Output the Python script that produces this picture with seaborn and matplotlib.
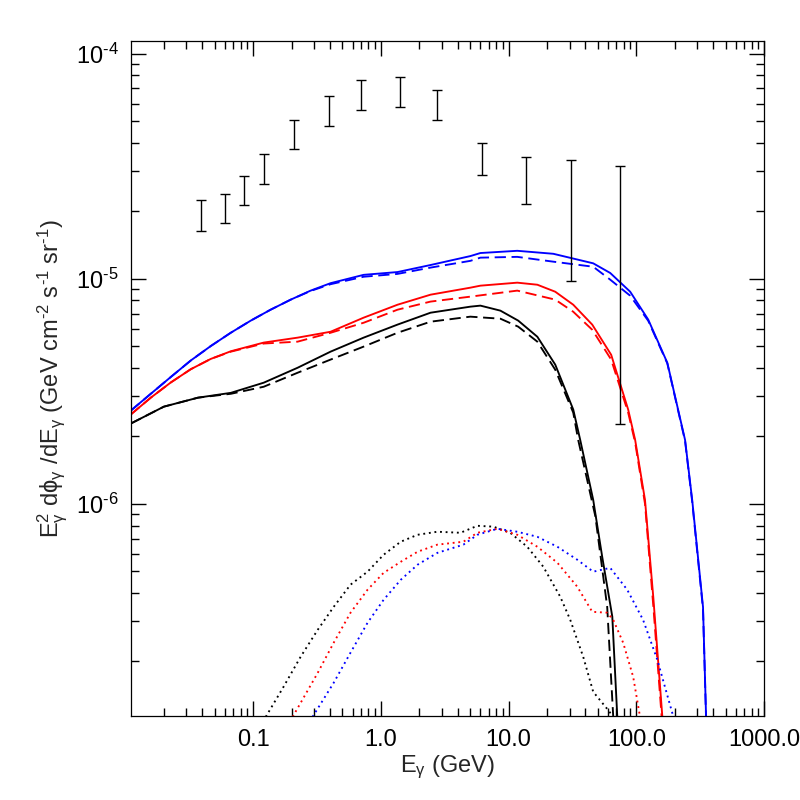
import numpy as np
import pandas as pd
import matplotlib
matplotlib.use("Agg")
import matplotlib.pyplot as plt
from matplotlib.ticker import FixedLocator, FixedFormatter, LogLocator, NullFormatter
import seaborn as sns

# ---- data (E in GeV, E^2 dphi/dE) ----
data_E = [0.0394, 0.060, 0.085, 0.1226, 0.21, 0.39, 0.70, 1.40, 2.77, 6.16, 13.8, 30.6, 74.4]
data_lo = [1.63e-5, 1.77e-5, 2.12e-5, 2.64e-5, 3.76e-5, 4.78e-5, 5.62e-5, 5.80e-5, 5.06e-5, 2.90e-5, 2.14e-5, 9.73e-6, 2.26e-6]
data_hi = [2.23e-5, 2.39e-5, 2.86e-5, 3.58e-5, 5.07e-5, 6.49e-5, 7.60e-5, 7.87e-5, 6.87e-5, 4.01e-5, 3.46e-5, 3.36e-5, 3.16e-5]

blue_solid_E = [0.011, 0.0158, 0.0227, 0.0325, 0.0466, 0.0668, 0.0958, 0.137, 0.197, 0.282, 0.404, 0.733,
                1.35, 2.45, 5.02, 6.02, 11.7, 22.4, 46.0, 62.5, 89.6, 124, 175, 241, 274, 333, 352]
blue_solid_F = [2.59e-6, 3.08e-6, 3.66e-6, 4.33e-6, 5.02e-6, 5.75e-6, 6.51e-6, 7.28e-6, 8.07e-6, 8.85e-6, 9.55e-6, 1.04e-5,
                1.07e-5, 1.15e-5, 1.26e-5, 1.30e-5, 1.33e-5, 1.29e-5, 1.17e-5, 1.06e-5, 8.75e-6, 6.58e-6, 4.23e-6,
                1.92e-6, 1.04e-6, 3.48e-7, 1.13e-7]
blue_dash_E = [0.011, 0.0158, 0.0227, 0.0325, 0.0466, 0.0668, 0.0958, 0.137, 0.197, 0.282, 0.404, 0.733,
               1.35, 2.45, 5.02, 6.02, 11.7, 22.4, 46.0, 62.5, 89.6, 124, 175, 241, 274, 333, 352]
blue_dash_F = [2.59e-6, 3.08e-6, 3.66e-6, 4.33e-6, 5.02e-6, 5.75e-6, 6.51e-6, 7.28e-6, 8.07e-6, 8.82e-6, 9.45e-6, 1.02e-5,
               1.05e-5, 1.12e-5, 1.20e-5, 1.24e-5, 1.25e-5, 1.19e-5, 1.13e-5, 9.9e-6, 8.4e-6, 6.5e-6, 4.2e-6,
               1.9e-6, 1.02e-6, 3.4e-7, 1.1e-7]

red_solid_E = [0.011, 0.0158, 0.0227, 0.0325, 0.0466, 0.067, 0.121, 0.223, 0.404, 0.733, 1.35, 2.45, 5.02, 6.02,
               11.7, 16.8, 23.2, 32.1, 45.2, 63.6, 86.4, 98, 117, 136, 160]
red_solid_F = [2.49e-6, 2.96e-6, 3.46e-6, 3.96e-6, 4.40e-6, 4.76e-6, 5.20e-6, 5.47e-6, 5.81e-6, 6.71e-6, 7.66e-6, 8.49e-6,
               9.12e-6, 9.31e-6, 9.60e-6, 9.40e-6, 8.75e-6, 7.66e-6, 6.25e-6, 4.59e-6, 2.62e-6, 1.92e-6, 1.04e-6,
               3.82e-7, 1.13e-7]
red_dash_E = [0.011, 0.0158, 0.0227, 0.0325, 0.0466, 0.067, 0.121, 0.223, 0.404, 0.733, 1.35, 2.45, 5.02,
              11.7, 23.2, 32.1, 45.2, 63.6, 86.4, 98, 117, 136, 158]
red_dash_F = [2.49e-6, 2.96e-6, 3.46e-6, 3.96e-6, 4.40e-6, 4.74e-6, 5.15e-6, 5.25e-6, 5.75e-6, 6.37e-6, 7.28e-6, 7.91e-6,
              8.32e-6, 8.85e-6, 8.07e-6, 7.13e-6, 5.93e-6, 4.37e-6, 2.54e-6, 1.87e-6, 1.0e-6, 3.5e-7, 1.13e-7]

black_solid_E = [0.011, 0.020, 0.037, 0.067, 0.121, 0.223, 0.404, 0.733, 1.35, 2.45, 5.02, 6.02,
                 8.63, 11.9, 16.8, 23.2, 32.1, 36.4, 46.0, 54.1, 64.9, 71.0]
black_solid_F = [2.27e-6, 2.70e-6, 2.96e-6, 3.11e-6, 3.45e-6, 4.02e-6, 4.74e-6, 5.47e-6, 6.25e-6, 7.06e-6, 7.51e-6, 7.59e-6,
                 7.21e-6, 6.51e-6, 5.52e-6, 4.15e-6, 2.62e-6, 1.92e-6, 1.04e-6, 5.81e-7, 3.15e-7, 1.13e-7]
black_dash_E = [0.011, 0.020, 0.037, 0.067, 0.121, 0.223, 0.404, 0.733, 1.35, 2.45, 5.02,
                8.63, 11.9, 16.8, 23.2, 32.1, 35.1, 47.8, 59.2, 66]
black_dash_F = [2.27e-6, 2.70e-6, 2.96e-6, 3.08e-6, 3.31e-6, 3.82e-6, 4.37e-6, 4.99e-6, 5.75e-6, 6.44e-6, 6.78e-6,
                6.64e-6, 6.12e-6, 5.25e-6, 3.94e-6, 2.54e-6, 1.92e-6, 8.8e-7, 3.48e-7, 1.13e-7]

black_dot_E = [0.1256, 0.1734, 0.2355, 0.320, 0.427, 0.579, 0.787, 1.05, 1.43, 1.94, 2.77, 4.20,
               5.70, 7.61, 10.3, 14.0, 18.7, 25.4, 30.4, 38.4, 46.0, 60.3, 66]
black_dot_F = [1.13e-7, 1.54e-7, 2.09e-7, 2.75e-7, 3.48e-7, 4.37e-7, 4.99e-7, 5.93e-7, 6.78e-7, 7.28e-7, 7.51e-7, 7.43e-7,
               7.98e-7, 7.91e-7, 7.43e-7, 6.44e-7, 5.25e-7, 3.86e-7, 3.05e-7, 2.09e-7, 1.46e-7, 1.21e-7, 1.13e-7]
red_dot_E = [0.204, 0.320, 0.427, 0.579, 0.787, 1.05, 1.43, 1.94, 2.77, 4.43, 5.70, 8.17,
             11.7, 16.8, 24.1, 34.5, 45.2, 59.2, 66.0, 79.0, 94.6, 107]
red_dot_F = [1.13e-7, 1.77e-7, 2.41e-7, 3.28e-7, 4.15e-7, 4.93e-7, 5.52e-7, 6.12e-7, 6.58e-7, 6.78e-7, 7.43e-7, 7.74e-7,
             7.28e-7, 6.44e-7, 5.47e-7, 4.28e-7, 3.31e-7, 3.28e-7, 3.05e-7, 2.41e-7, 1.70e-7, 1.13e-7]
blue_dot_E = [0.292, 0.427, 0.579, 0.787, 1.05, 1.43, 1.94, 2.77, 4.43, 5.70, 8.17, 11.7,
              16.8, 24.1, 34.5, 46.0, 62.5, 84.9, 113, 146, 191, 198]
blue_dot_F = [1.13e-7, 1.60e-7, 2.18e-7, 2.96e-7, 3.74e-7, 4.59e-7, 5.36e-7, 6.05e-7, 6.58e-7, 7.28e-7, 7.74e-7, 7.51e-7,
              7.13e-7, 6.44e-7, 5.64e-7, 4.99e-7, 5.19e-7, 4.15e-7, 3.05e-7, 2.03e-7, 1.18e-7, 1.10e-7]

x_ticks = [0.1, 1.0, 10.0, 100.0, 1000.0]
x_ticklabels = ["0.1", "1.0", "10.0", "100.0", "1000.0"]
y_ticks = [1e-6, 1e-5, 1e-4]
y_ticklabels = [r"$10^{\text{-}6}$", r"$10^{\text{-}5}$", r"$10^{\text{-}4}$"]

# ---- long table for seaborn ----
curves = [
    ("black", "solid", black_solid_E, black_solid_F),
    ("black", "dashed", black_dash_E, black_dash_F),
    ("black", "dotted", black_dot_E, black_dot_F),
    ("red", "solid", red_solid_E, red_solid_F),
    ("red", "dashed", red_dash_E, red_dash_F),
    ("red", "dotted", red_dot_E, red_dot_F),
    ("blue", "solid", blue_solid_E, blue_solid_F),
    ("blue", "dashed", blue_dash_E, blue_dash_F),
    ("blue", "dotted", blue_dot_E, blue_dot_F),
]
frames = []
for model, kind, e, f in curves:
    frames.append(pd.DataFrame({"E": e, "F": f, "model": model, "kind": kind}))
df = pd.concat(frames, ignore_index=True)

sns.set_style("ticks")
plt.rcParams["font.family"] = ["Liberation Sans", "DejaVu Sans"]
plt.rcParams["mathtext.fontset"] = "custom"
plt.rcParams["mathtext.rm"] = "Liberation Sans"
plt.rcParams["mathtext.it"] = "Liberation Sans"
plt.rcParams["mathtext.default"] = "regular"

fig = plt.figure(figsize=(8, 8), dpi=100)
ax = fig.add_axes([0.164, 0.105, 0.791, 0.844])

sns.lineplot(data=df, x="E", y="F", hue="model", style="kind",
             palette={"black": "black", "red": "#ff0000", "blue": "#0000ff"},
             dashes={"solid": "", "dashed": (6, 3), "dotted": (1, 2)},
             estimator=None, units="kind", sort=True, linewidth=1.35,
             legend=False, ax=ax)

# data points with error bars
d_E = np.array(data_E)
d_lo = np.array(data_lo)
d_hi = np.array(data_hi)
d_mid = np.sqrt(d_lo * d_hi)
ax.errorbar(d_E, d_mid, yerr=[d_mid - d_lo, d_hi - d_mid], fmt="none",
            ecolor="black", elinewidth=1.0, capsize=3.5, capthick=1.0)

ax.set_xscale("log")
ax.set_yscale("log")
ax.set_xlim(0.0111, 1000)
ax.set_ylim(1.14e-7, 1.14e-4)

ax.xaxis.set_major_locator(FixedLocator(x_ticks))
ax.xaxis.set_major_formatter(FixedFormatter(x_ticklabels))
ax.xaxis.set_minor_locator(LogLocator(base=10, subs=np.arange(2, 10), numticks=20))
ax.xaxis.set_minor_formatter(NullFormatter())
ax.yaxis.set_major_locator(FixedLocator(y_ticks))
ax.yaxis.set_major_formatter(FixedFormatter(y_ticklabels))
ax.yaxis.set_minor_locator(LogLocator(base=10, subs=np.arange(2, 10), numticks=20))
ax.yaxis.set_minor_formatter(NullFormatter())

ax.tick_params(which="both", direction="in", top=True, right=True, width=1.0, colors="black")
ax.tick_params(which="major", length=11, labelsize=17, pad=9)
ax.tick_params(which="minor", length=5.5)
for sp in ax.spines.values():
    sp.set_visible(True)
    sp.set_linewidth(0.9)
    sp.set_color("black")

ax.set_xlabel(r"E$_\gamma$ (GeV)", fontsize=17, labelpad=2)
ax.set_ylabel(r"E$_\gamma^2$ d$\phi_\gamma$ /dE$_\gamma$ (GeV cm$^{\text{-}2}$ s$^{\text{-}1}$ sr$^{\text{-}1}$)",
              fontsize=17, labelpad=4)

fig.savefig("out.png", dpi=100)
